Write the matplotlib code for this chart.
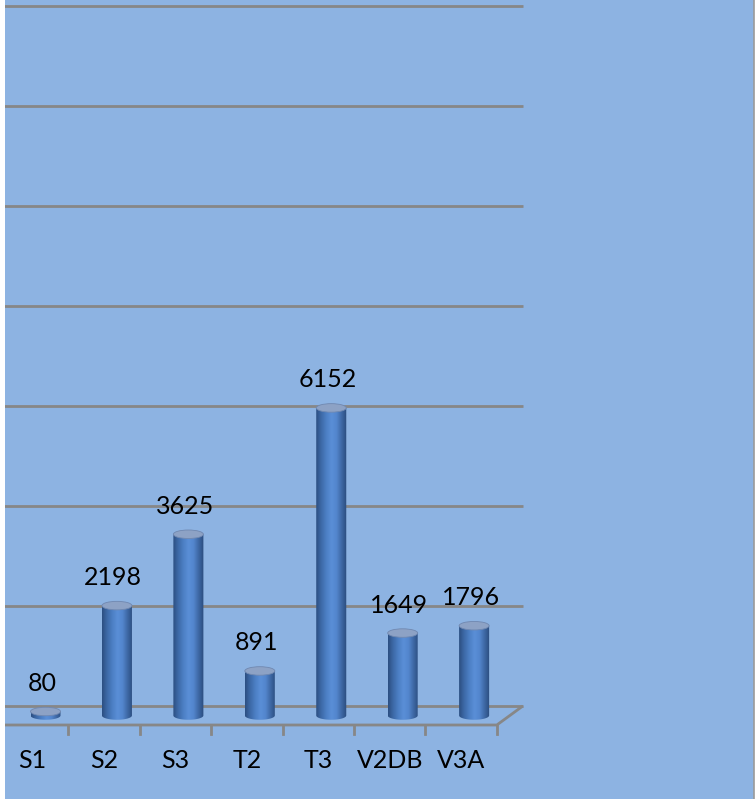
import numpy as np
import matplotlib
matplotlib.use("Agg")
import matplotlib.pyplot as plt
from matplotlib.patches import Polygon, Ellipse
from matplotlib.colors import LinearSegmentedColormap

# chart data
categories = ["S1", "S2", "S3", "T2", "T3", "V2DB", "V3A"]
values = [80, 2198, 3625, 891, 6152, 1649, 1796]
grid_values = [0, 2000, 4000, 6000, 8000, 10000, 12000, 14000]

plt.rcParams['font.family'] = ['Lato', 'DejaVu Sans']

bg = "#8DB3E2"
grid_col = "#878787"
depth_x = 0.364   # shift of the back wall, in category units
depth_y = 380     # shift of the back wall, in value units

fig = plt.figure(figsize=(7.55, 7.99), dpi=100)
fig.patch.set_facecolor("white")
ax = fig.add_axes([5 / 755, 0, 749 / 755, 1])
ax.set_facecolor(bg)
for side in ["left", "top", "bottom"]:
    ax.spines[side].set_visible(False)
ax.spines["right"].set_color("#9a9a9a")
ax.spines["right"].set_linewidth(1.2)
ax.set_xticks([])
ax.set_yticks([])

n = len(categories)
left, right = -0.5, n - 0.5

# back wall gridlines (wall starts left of the visible area)
for g in grid_values:
    ax.plot([left - 1, right + depth_x], [g, g], color=grid_col, lw=2, zorder=1,
            solid_capstyle="butt")

# floor front edge, side edge and ticks
ax.plot([left - 1, right, right + depth_x], [-depth_y, -depth_y, 0], color=grid_col, lw=2,
        zorder=1, solid_capstyle="butt")
for k in range(1, n + 1):
    xt = left + k
    ax.plot([xt, xt], [-depth_y, -depth_y - 170], color=grid_col, lw=2, zorder=1)

# cylinder colours
cyl_cmap = LinearSegmentedColormap.from_list(
    "cyl", ["#2B4E80", "#3D69A7", "#4C7FC4", "#5A8FD7", "#5386CD", "#3D67A3", "#2A4B7C"])
grad = np.linspace(0, 1, 256).reshape(1, -1)

w = 0.42
eh = 170
theta = np.linspace(np.pi, 2 * np.pi, 60)
for i, v in enumerate(values):
    cx = i + depth_x / 2
    y0 = -depth_y / 2
    y1 = y0 + v
    pts = [(cx - w / 2, y1), (cx - w / 2, y0)]
    pts += list(zip(cx + w / 2 * np.cos(theta), y0 + eh / 2 * np.sin(theta)))
    pts += [(cx + w / 2, y1)]
    body = Polygon(pts, closed=True, facecolor="none", edgecolor="none")
    ax.add_patch(body)
    im = ax.imshow(grad, extent=[cx - w / 2, cx + w / 2, y0 - eh / 2, y1], aspect="auto",
                   cmap=cyl_cmap, interpolation="bicubic", zorder=3)
    im.set_clip_path(body)
    top = Ellipse((cx, y1), w, eh, facecolor="#8DA2C5", edgecolor="#7088B0", lw=0.6, zorder=4)
    ax.add_patch(top)
    ax.text(cx - 0.05, y1 + 560, str(v), ha="center", va="center", fontsize=18,
            color="black", zorder=5)

for i, c in enumerate(categories):
    ax.text(i, -depth_y - 700, c, ha="center", va="center", fontsize=18, color="black")

ax.set_xlim(-0.385, 10.10)
ax.set_ylim(-1860, 14120)

fig.savefig("out.png", dpi=100, facecolor=fig.get_facecolor())
